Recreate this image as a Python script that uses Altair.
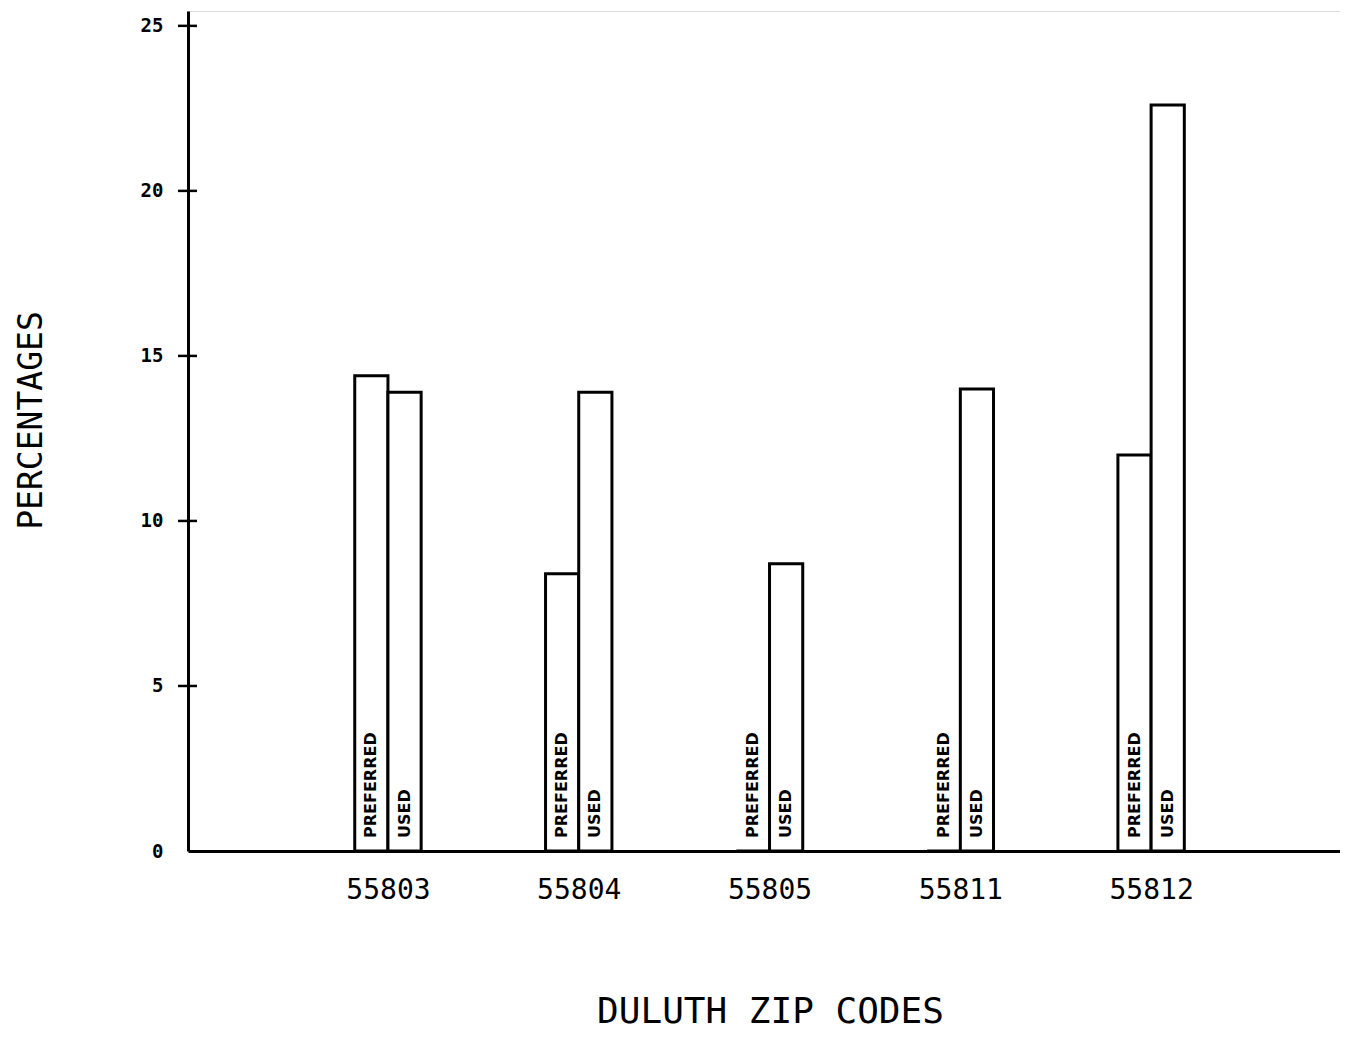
import altair as alt
import pandas as pd

# ---- data ----
zips = ["55803", "55804", "55805", "55811", "55812"]
preferred = [14.4, 8.4, 0.0, 0.0, 12.0]
used = [13.9, 13.9, 8.7, 14.0, 22.6]
series_names = ["PREFERRED", "USED"]
y_ticks = [0, 5, 10, 15, 20, 25]

bar_w = 0.174  # bar width in group units

rows = []
for i, z in enumerate(zips):
    rows.append({"zip": z, "series": series_names[0], "value": preferred[i],
                 "x0": i - bar_w, "x1": i, "xc": i - bar_w / 2})
    rows.append({"zip": z, "series": series_names[1], "value": used[i],
                 "x0": i, "x1": i + bar_w, "xc": i + bar_w / 2})
df = pd.DataFrame(rows)
ticks_df = pd.DataFrame({"t": [t for t in y_ticks if t > 0]})

W, H = 1152, 840
x_scale = alt.Scale(domain=[-1.048, 4.99], nice=False, zero=False)
y_scale = alt.Scale(domain=[0, 25.45], nice=False, zero=True)

label_expr = "[" + ",".join(f"'{z}'" for z in zips) + "][datum.value]"

base = alt.Chart(df)

bars = base.mark_bar(fill="white", stroke="black", strokeWidth=3, strokeJoin="miter").encode(
    x=alt.X("x0:Q", scale=x_scale,
            axis=alt.Axis(values=list(range(len(zips))), labelExpr=label_expr,
                          ticks=False, grid=False, domainColor="black", domainWidth=3,
                          labelFont="DejaVu Sans Mono", labelFontSize=28, labelColor="black",
                          labelPadding=25, labelBaseline="top",
                          title="DULUTH ZIP CODES", titleFont="DejaVu Sans Mono",
                          titleFontSize=36, titleFontWeight="normal", titleColor="black",
                          titleX=582, titleY=171, titleAlign="center",
                          titleBaseline="alphabetic")),
    x2="x1:Q",
    y=alt.Y("value:Q", scale=y_scale,
            axis=alt.Axis(values=y_ticks, ticks=False, grid=False, domainColor="black",
                          domainWidth=3, labelFont="DejaVu Sans Mono", labelFontSize=19,
                          labelFontWeight="bold", labelColor="black", labelPadding=25,
                          title="PERCENTAGES", titleFont="DejaVu Sans Mono",
                          titleFontSize=33, titleFontWeight="normal", titleColor="black",
                          titleAngle=270, titleX=-157, titleY=409, titleAlign="center",
                          titleBaseline="middle")),
    y2=alt.datum(0),
)

labels = base.mark_text(angle=270, align="left", baseline="middle", dx=13,
                        font="DejaVu Sans", fontSize=16, fontWeight="bold",
                        color="black").encode(
    x=alt.X("xc:Q", scale=x_scale),
    y=alt.datum(0),
    text="series:N",
)

tick_marks = alt.Chart(ticks_df).mark_rule(color="black", strokeWidth=2.5).encode(
    y=alt.Y("t:Q", scale=y_scale),
    x=alt.value(-10),
    x2=alt.value(9),
)

chart = (
    alt.layer(bars, labels, tick_marks)
    .properties(width=W, height=H,
                autosize=alt.AutoSizeParams(type="none"),
                padding={"left": 180, "top": 3, "right": 0, "bottom": 180})
    .configure_view(stroke=None)
    .configure_axis(grid=False)
    .configure(background="white")
)

chart.save("out.html", embed_options={"renderer": "svg", "actions": False})
